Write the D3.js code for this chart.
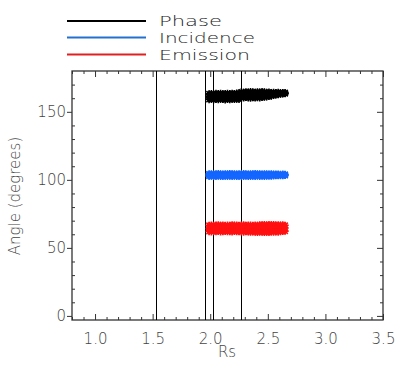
<!DOCTYPE html>
<html>
<head>
<meta charset="utf-8">
<script src="https://cdn.jsdelivr.net/npm/d3@7"></script>
<style>
body { margin: 0; background: #fff; }
text { font-family: "DejaVu Sans", sans-serif; }
</style>
</head>
<body>
<svg id="chart" width="401" height="371"></svg>
<script>
// values
var seriesNames = ["Phase", "Incidence", "Emission"];
var seriesColors = ["#000000", "#1466ff", "#ff1010"];
var legendColors = ["#000000", "#2470d0", "#e02020"];

var rs = [1.99, 2.01, 2.03, 2.05, 2.07, 2.09, 2.11, 2.13, 2.15, 2.17, 2.19, 2.21,
    2.23, 2.25, 2.27, 2.29, 2.31, 2.33, 2.35, 2.37, 2.39, 2.41, 2.43, 2.45,
    2.47, 2.49, 2.51, 2.53, 2.55, 2.57, 2.59, 2.61, 2.63, 2.65];

var phaseHi = [163.2, 163.4, 163.1, 163.5, 163.3, 163.6, 163.2, 163.4, 163.5, 163.3, 163.6, 163.4,
    163.7, 163.8, 164.6, 164.4, 164.7, 164.5, 164.8, 164.6, 164.4, 164.7, 164.5, 164.8,
    164.6, 164.3, 164.5, 164.2, 164.4, 164.1, 164.3, 164.0, 164.2, 164.1];
var phaseMid = [161.2, 161.0, 161.3, 160.9, 161.2, 161.1, 160.8, 161.3, 161.0, 161.2, 160.9, 161.1,
    161.4, 161.0, 162.3, 162.0, 162.4, 162.1, 162.5, 162.2, 162.0, 162.3, 162.1, 162.4,
    162.2, 162.5, 162.3, 162.6, 163.0, 163.2, 163.3, 163.4, 163.6, 163.5];
var phaseLo = [159.0, 159.3, 158.9, 159.2, 159.0, 159.4, 159.1, 158.8, 159.2, 159.0, 159.3, 159.1,
    159.4, 159.2, 160.5, 160.2, 160.6, 160.3, 160.1, 160.4, 160.2, 160.5, 160.3, 160.6,
    160.8, 161.0, 161.3, 161.6, 162.0, 162.4, 162.7, 163.0, 163.2, 163.4];

var incHi = [104.4, 104.5, 104.3, 104.4, 104.6, 104.4, 104.3, 104.5, 104.4, 104.6, 104.4, 104.5,
    104.3, 104.4, 104.5, 104.6, 104.4, 104.3, 104.5, 104.4, 104.6, 104.4, 104.5, 104.3,
    104.4, 104.5, 104.3, 104.4, 104.2, 104.3, 104.2, 104.1, 104.2, 104.1];
var incMid = [103.5, 103.4, 103.6, 103.5, 103.3, 103.5, 103.6, 103.4, 103.5, 103.3, 103.6, 103.4,
    103.5, 103.6, 103.4, 103.5, 103.3, 103.6, 103.4, 103.5, 103.4, 103.6, 103.5, 103.4,
    103.5, 103.3, 103.6, 103.5, 103.5, 103.6, 103.5, 103.6, 103.5, 103.6];
var incLo = [102.6, 102.7, 102.5, 102.6, 102.8, 102.6, 102.5, 102.7, 102.6, 102.8, 102.5, 102.7,
    102.6, 102.5, 102.7, 102.6, 102.8, 102.6, 102.5, 102.7, 102.6, 102.8, 102.6, 102.7,
    102.6, 102.8, 102.7, 102.8, 102.9, 103.0, 103.0, 103.1, 103.0, 103.2];

var emHi = [66.6, 66.8, 66.5, 66.7, 66.9, 66.6, 66.8, 66.5, 66.7, 66.6, 66.9, 66.7,
    66.8, 66.6, 66.7, 66.9, 66.6, 66.8, 66.7, 66.5, 66.8, 66.6, 66.9, 67.0,
    67.1, 66.8, 67.2, 66.9, 67.1, 66.8, 67.0, 66.7, 66.9, 66.6];
var emMid = [64.3, 64.1, 64.4, 64.2, 64.0, 64.3, 64.5, 64.2, 64.1, 64.4, 64.2, 64.3,
    64.0, 64.4, 64.2, 64.1, 64.3, 64.5, 64.2, 64.4, 64.1, 64.3, 64.2, 64.4,
    64.1, 64.5, 64.2, 64.3, 64.0, 64.4, 64.2, 64.5, 64.3, 64.6];
var emLo = [62.0, 61.8, 62.1, 61.9, 62.2, 61.8, 62.0, 62.1, 61.9, 62.0, 61.8, 62.1,
    61.9, 62.0, 61.8, 61.6, 61.9, 61.7, 61.5, 61.8, 61.6, 61.4, 61.7, 61.5,
    61.3, 61.6, 61.4, 61.7, 61.5, 61.8, 61.6, 61.9, 62.1, 62.3];

var markerRs = [1.53, 1.955, 2.024, 2.267];

var xTicks = [1.0, 1.5, 2.0, 2.5, 3.0, 3.5];
var xMinor = [0.8, 0.9, 1.1, 1.2, 1.3, 1.4, 1.6, 1.7, 1.8, 1.9, 2.1, 2.2, 2.3, 2.4,
    2.6, 2.7, 2.8, 2.9, 3.1, 3.2, 3.3, 3.4];
var yTicks = [0, 50, 100, 150];
var yMinor = [10, 20, 30, 40, 60, 70, 80, 90, 110, 120, 130, 140, 160, 170];

var seriesData = [
    [phaseHi, phaseMid, phaseLo],
    [incHi, incMid, incLo],
    [emHi, emMid, emLo]
];

var svg = d3.select("#chart");
var x = d3.scaleLinear().domain([0.8, 3.5]).range([72, 383]);
var y = d3.scaleLinear().domain([-3, 180]).range([320, 71]);

var axisColor = "#333";
var labelColor = "#444";

/* axes: ticks point into the box, like IDL */
function drawAxis(axis, tr) {
    var g = svg.append("g").attr("transform", tr).call(axis);
    g.select(".domain").remove();
    g.selectAll("line").attr("stroke", axisColor);
    g.selectAll("text").attr("fill", labelColor)
        .style("font-size", "15px").style("font-weight", "300");
    return g;
}

drawAxis(d3.axisBottom(x).tickValues(xTicks).tickSize(-6).tickPadding(13)
    .tickFormat(d3.format(".1f")), "translate(0,320)");
drawAxis(d3.axisBottom(x).tickValues(xMinor).tickSize(-3).tickFormat(""), "translate(0,320)");
drawAxis(d3.axisTop(x).tickValues(xTicks).tickSize(-6).tickFormat(""), "translate(0,71)");
drawAxis(d3.axisTop(x).tickValues(xMinor).tickSize(-3).tickFormat(""), "translate(0,71)");

drawAxis(d3.axisLeft(y).tickValues(yTicks).tickSize(5).tickPadding(1)
    .tickFormat(d3.format("d")), "translate(72,0)");
drawAxis(d3.axisLeft(y).tickValues(yMinor).tickSize(-3).tickFormat(""), "translate(72,0)");
drawAxis(d3.axisRight(y).tickValues(yTicks).tickSize(-6).tickFormat(""), "translate(383,0)");
drawAxis(d3.axisRight(y).tickValues(yMinor).tickSize(-3).tickFormat(""), "translate(383,0)");

svg.append("rect")
    .attr("x", 72).attr("y", 71)
    .attr("width", 383 - 72).attr("height", 320 - 71)
    .attr("fill", "none").attr("stroke", axisColor).attr("stroke-width", 1.3);

// vertical marker lines, snapped to the pixel grid
svg.selectAll("line.marker").data(markerRs).enter().append("line")
    .attr("class", "marker")
    .attr("x1", function(d) { return Math.round(x(d)) + 0.5; })
    .attr("x2", function(d) { return Math.round(x(d)) + 0.5; })
    .attr("y1", 71).attr("y2", 320)
    .attr("stroke", "#000").attr("stroke-width", 1);

// asterisk = plus + times
var s = 3.6;
var asterisk = "M" + (-s) + ",0H" + s + "M0," + (-s) + "V" + s +
    "M" + (-s * 0.75) + "," + (-s * 0.75) + "L" + (s * 0.75) + "," + (s * 0.75) +
    "M" + (-s * 0.75) + "," + (s * 0.75) + "L" + (s * 0.75) + "," + (-s * 0.75);

for (var ii = 0; ii < seriesData.length; ii++) {
    var pts = [];
    seriesData[ii].forEach(function(row) {
        for (var jj = 0; jj < rs.length; jj++) {
            pts.push({ rs: rs[jj], angle: row[jj] });
        }
    });
    svg.append("g").selectAll("path").data(pts).enter().append("path")
        .attr("d", asterisk)
        .attr("transform", function(d) { return "translate(" + x(d.rs) + "," + y(d.angle) + ")"; })
        .attr("fill", "none")
        .attr("stroke", seriesColors[ii])
        .attr("stroke-width", 1.6);
}

// axis titles
svg.append("text")
    .attr("x", 227).attr("y", 357)
    .attr("text-anchor", "middle")
    .attr("fill", labelColor)
    .style("font-size", "15px").style("font-weight", "300")
    .text("Rs");

svg.append("text")
    .attr("transform", "translate(20,196) rotate(-90)")
    .attr("text-anchor", "middle")
    .attr("fill", labelColor)
    .style("font-size", "15px").style("font-weight", "300")
    .text("Angle (degrees)");

// legend
var legendY = [21, 37.5, 54.5];
var legendW = [63, 96, 91];
var legend = svg.append("g");
seriesNames.forEach(function(name, ii) {
    legend.append("line")
        .attr("x1", 67).attr("x2", 146)
        .attr("y1", legendY[ii]).attr("y2", legendY[ii])
        .attr("stroke", legendColors[ii]).attr("stroke-width", 2.2);
    legend.append("text")
        .attr("x", 159).attr("y", legendY[ii] + 5)
        .attr("fill", "#222")
        .attr("textLength", legendW[ii])
        .attr("lengthAdjust", "spacingAndGlyphs")
        .style("font-size", "14px")
        .style("font-weight", "300")
        .text(name);
});
</script>
</body>
</html>
